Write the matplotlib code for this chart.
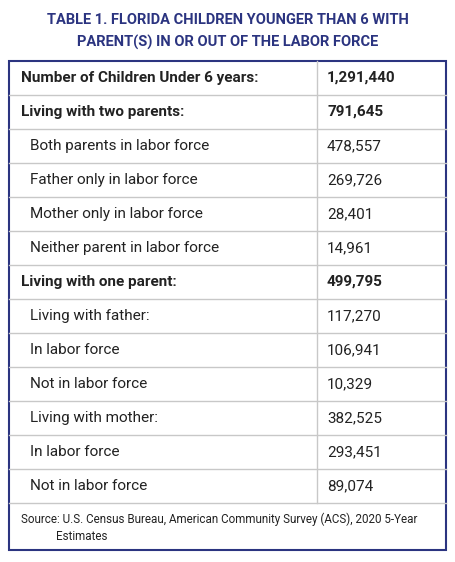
import matplotlib
matplotlib.use("Agg")
import matplotlib.pyplot as plt
from matplotlib.patches import Rectangle

title = ["TABLE 1. FLORIDA CHILDREN YOUNGER THAN 6 WITH", "PARENT(S) IN OR OUT OF THE LABOR FORCE"]
labels = ["Number of Children Under 6 years:", "Living with two parents:", "Both parents in labor force",
          "Father only in labor force", "Mother only in labor force", "Neither parent in labor force",
          "Living with one parent:", "Living with father:", "In labor force", "Not in labor force",
          "Living with mother:", "In labor force", "Not in labor force"]
values = ["1,291,440", "791,645", "478,557", "269,726", "28,401", "14,961", "499,795",
          "117,270", "106,941", "10,329", "382,525", "293,451", "89,074"]
bold = [True, True, False, False, False, False, True, False, False, False, False, False, False]
source = ["Source: U.S. Census Bureau, American Community Survey (ACS), 2020 5-Year", "Estimates"]

W, H = 455, 562
fig = plt.figure(figsize=(W/100, H/100), dpi=100)
ax = fig.add_axes([0, 0, 1, 1])
ax.set_xlim(0, W); ax.set_ylim(H, 0); ax.axis("off")
navy = "#2b3480"
grid = "#c8c8c8"
txt = "#222222"
font = "Roboto"

ax.text(W/2, 20, title[0], ha="center", va="center", color=navy, fontsize=10.5, fontweight="bold", family=font)
ax.text(W/2, 42, title[1], ha="center", va="center", color=navy, fontsize=10.5, fontweight="bold", family=font)

x0, x1, xc = 9, 446, 317
y0, rh = 61, 34
n = len(labels)
yend = y0 + n*rh
for i in range(n):
    yc = y0 + rh*i + rh/2
    fs = 11 if bold[i] else 11
    ax.text(x0 + (12 if bold[i] else 21), yc, labels[i], ha="left", va="center", color=txt,
            fontsize=fs, fontweight="bold" if bold[i] else "normal", family=font)
    ax.text(xc + 10, yc, values[i], ha="left", va="center", color=txt,
            fontsize=fs, fontweight="bold" if bold[i] else "normal", family=font)
    if i > 0:
        ax.plot([x0, x1], [y0 + rh*i]*2, color=grid, lw=1)
ax.plot([x0, x1], [yend]*2, color=grid, lw=1)
ax.plot([xc, xc], [y0, yend], color=grid, lw=1)
ax.text(x0 + 12, 519, source[0], ha="left", va="center", color=txt, fontsize=8.4, family=font)
ax.text(x0 + 47, 537, source[1], ha="left", va="center", color=txt, fontsize=8.4, family=font)
ax.add_patch(Rectangle((x0, y0), x1-x0, 550-y0, fill=False, edgecolor=navy, lw=1.5))
fig.savefig("out.png", dpi=100)
